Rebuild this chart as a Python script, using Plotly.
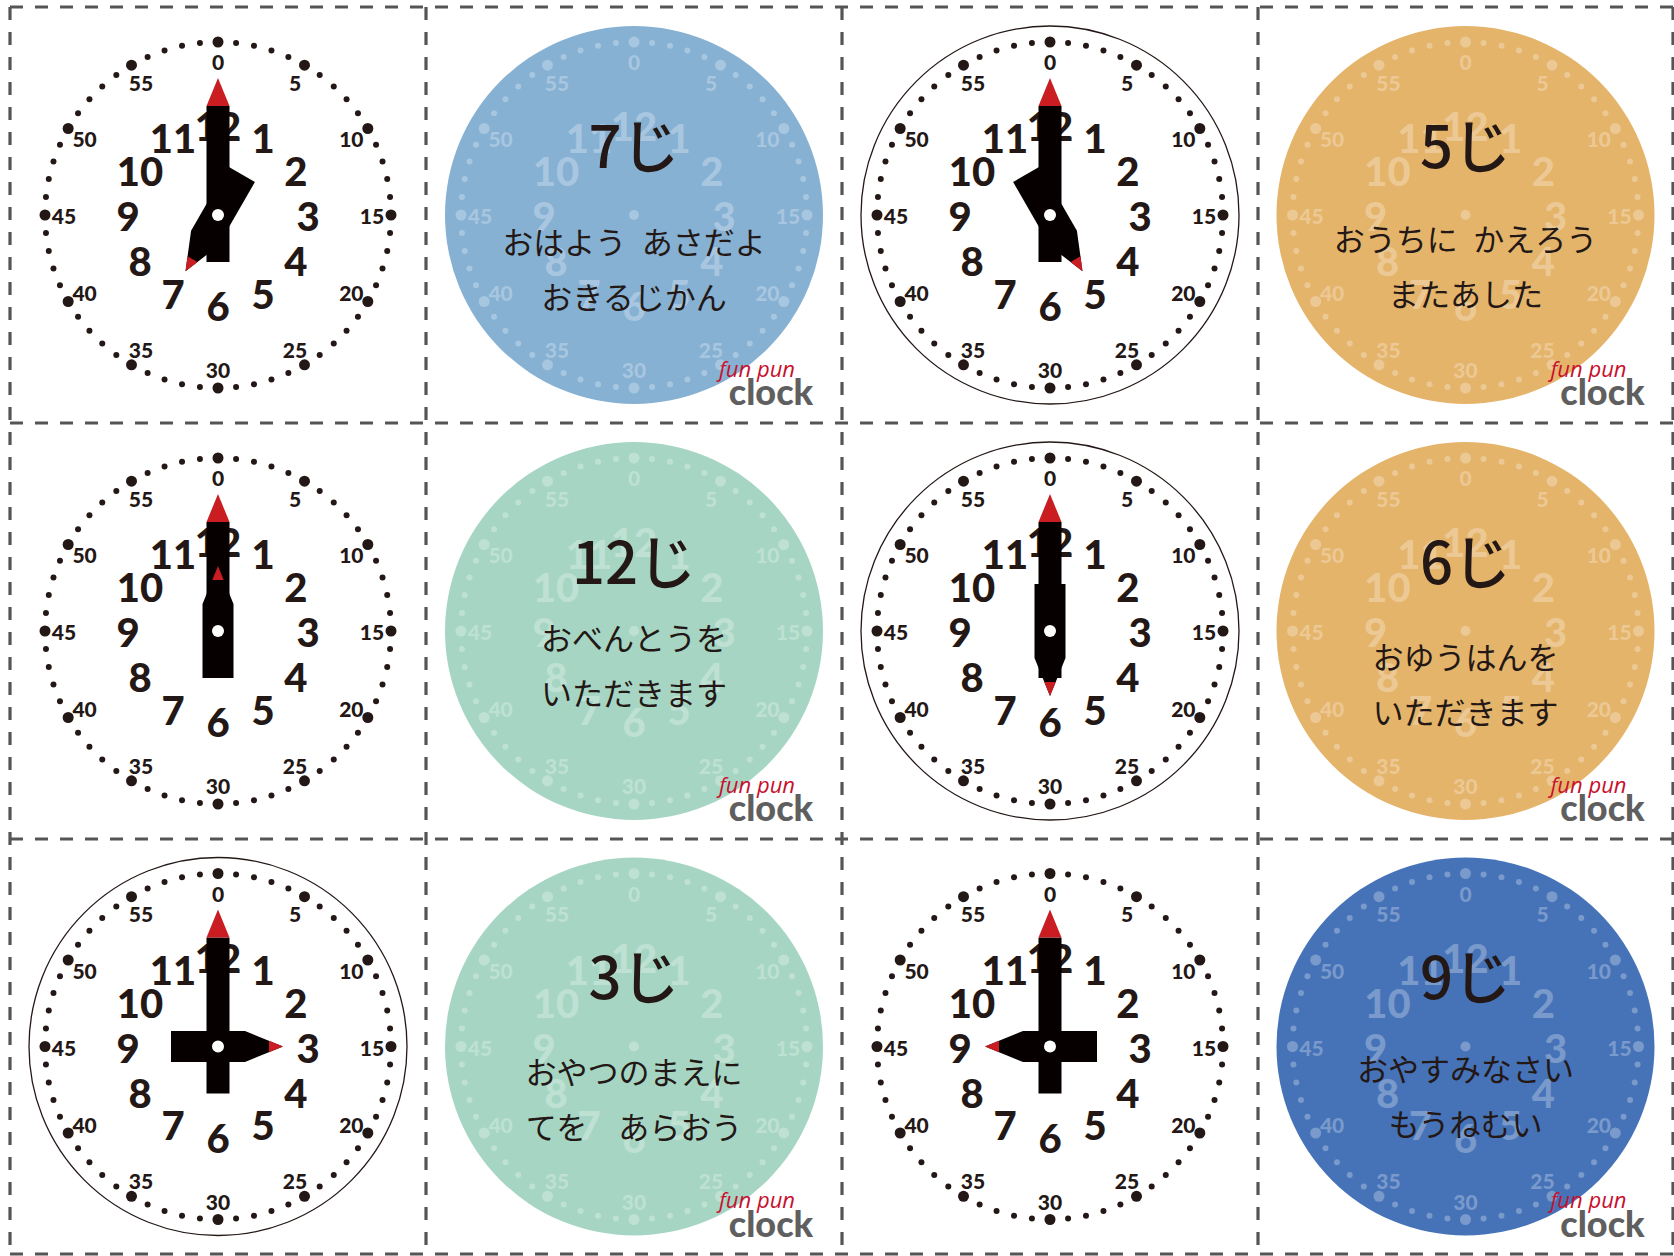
import math
import plotly.graph_objects as go

# ---------------- data ----------------
W, H = 1674, 1256
grid_x = [10, 426, 842, 1258, 1673]
grid_y = [7, 423, 839, 1254]

clock_cells = [(0, 0), (0, 2), (1, 0), (1, 2), (2, 0), (2, 2)]
clock_hours = [7, 5, 12, 6, 3, 9]
clock_minutes = [0, 0, 0, 0, 0, 0]
clock_has_ring = [False, True, False, True, True, False]

card_cells = [(0, 1), (0, 3), (1, 1), (1, 3), (2, 1), (2, 3)]
card_titles = ["7じ", "5じ", "12じ", "6じ", "3じ", "9じ"]
card_line1 = ["おはよう\u2002あさだよ", "おうちに\u2002かえろう", "おべんとうを",
              "おゆうはんを", "おやつのまえに", "おやすみなさい"]
card_line2 = ["おきるじかん", "またあした", "いただきます",
              "いただきます", "てを　あらおう", "もうねむい"]
card_colors = ["#86b1d3", "#e5b46b", "#a6d6c3", "#e5b46b", "#a6d6c3", "#4673b8"]
card_text_shift = [0, -3, -20, -1, -1, -4]

minute_labels = ["0", "5", "10", "15", "20", "25", "30", "35", "40", "45", "50", "55"]
hour_labels = ["12", "1", "2", "3", "4", "5", "6", "7", "8", "9", "10", "11"]

logo_top = "fun pun"
logo_bottom = "clock"

# ---------------- style ----------------
INK = "#231815"
HAND = "#060001"
RED = "#c91d21"
GRID = "#555555"
FAINT = "rgba(255,255,255,0.28)"
FACE_R = 189
DOT_R = 173
MIN_R = 154
HOUR_R = 90
MIN_DY = 4
HOUR_DY = 6
NUM_FONT = "Lato"
JP_FONT = "Noto Sans CJK JP"


def cell_center(cell):
    r, c = cell
    return (grid_x[c] + grid_x[c + 1]) / 2, (grid_y[r] + grid_y[r + 1]) / 2


def polar(cx, cy, r, deg):
    a = math.radians(deg)
    return cx + r * math.sin(a), cy - r * math.cos(a)


def hand_pt(cx, cy, deg, s, w):
    a = math.radians(deg)
    ux, uy = math.sin(a), -math.cos(a)
    vx, vy = math.cos(a), math.sin(a)
    return cx + s * ux + w * vx, cy + s * uy + w * vy


def svg_path(pts):
    return "M " + " L ".join(f"{x:.2f},{y:.2f}" for x, y in pts) + " Z"


shapes = []
traces = []

# dashed cutting grid
for gx in grid_x:
    shapes.append(dict(type="line", xref="x", yref="y", x0=gx, x1=gx, y0=grid_y[0], y1=grid_y[-1],
                       line=dict(color=GRID, width=3.2, dash="13px,12px"), layer="below"))
for gy in grid_y:
    shapes.append(dict(type="line", xref="x", yref="y", x0=grid_x[0], x1=grid_x[-1], y0=gy, y1=gy,
                       line=dict(color=GRID, width=3.2, dash="13px,12px"), layer="below"))

faces = {"solid": [cell_center(c) for c in clock_cells],
         "faint": [cell_center(c) for c in card_cells]}

# coloured card discs
for cell, col in zip(card_cells, card_colors):
    cx, cy = cell_center(cell)
    shapes.append(dict(type="circle", xref="x", yref="y", x0=cx - FACE_R, x1=cx + FACE_R,
                       y0=cy - FACE_R, y1=cy + FACE_R, fillcolor=col, line=dict(width=0), layer="below"))

# clock rings
for cell, ring in zip(clock_cells, clock_has_ring):
    if ring:
        cx, cy = cell_center(cell)
        shapes.append(dict(type="circle", xref="x", yref="y", x0=cx - FACE_R, x1=cx + FACE_R,
                           y0=cy - FACE_R, y1=cy + FACE_R, line=dict(color=INK, width=1.3), layer="below"))

for kind, color in (("solid", INK), ("faint", FAINT)):
    bx, by, sx, sy = [], [], [], []
    mx, my, mt = [], [], []
    hx, hy, ht = [], [], []
    for cx, cy in faces[kind]:
        for i in range(60):
            x, y = polar(cx, cy, DOT_R, i * 6)
            if i % 5 == 0:
                bx.append(x); by.append(y)
            else:
                sx.append(x); sy.append(y)
        for k, lab in enumerate(minute_labels):
            x, y = polar(cx, cy, MIN_R, k * 30)
            mx.append(x); my.append(y + MIN_DY); mt.append(lab)
        for k, lab in enumerate(hour_labels):
            x, y = polar(cx, cy, HOUR_R, k * 30)
            hx.append(x); hy.append(y + HOUR_DY); ht.append(lab)
    traces.append(go.Scatter(x=bx, y=by, mode="markers", marker=dict(size=11, color=color, line=dict(width=0)),
                             hoverinfo="skip"))
    traces.append(go.Scatter(x=sx, y=sy, mode="markers", marker=dict(size=6, color=color, line=dict(width=0)),
                             hoverinfo="skip"))
    traces.append(go.Scatter(x=mx, y=my, mode="text", text=mt, textposition="middle center",
                             textfont=dict(family=NUM_FONT, size=21, color=color, weight=900),
                             hoverinfo="skip"))
    traces.append(go.Scatter(x=hx, y=hy, mode="text", text=ht, textposition="middle center",
                             textfont=dict(family=NUM_FONT, size=40, color=color, weight=900),
                             hoverinfo="skip"))
    if kind == "faint":
        traces.append(go.Scatter(x=[c[0] for c in faces[kind]], y=[c[1] for c in faces[kind]], mode="markers",
                                 marker=dict(size=10, color=color, line=dict(width=0)), hoverinfo="skip"))

# hands
for cell, hr, mn in zip(clock_cells, clock_hours, clock_minutes):
    cx, cy = cell_center(cell)
    mdeg = mn * 6
    hdeg = (hr % 12) * 30 + mn * 0.5
    mh = [(-47, -11.5), (109, -11.5), (109, 11.5), (-47, 11.5)]
    mr = [(109, -11.5), (137, 0), (109, 11.5)]
    hh = [(-47, -15.5), (27, -15.5), (65, 0), (27, 15.5), (-47, 15.5)]
    hrd = [(51, -5.7), (65, 0), (51, 5.7)]
    for pts, col, deg in ((mh, HAND, mdeg), (mr, RED, mdeg), (hh, HAND, hdeg), (hrd, RED, hdeg)):
        shapes.append(dict(type="path", xref="x", yref="y",
                           path=svg_path([hand_pt(cx, cy, deg, s, w) for s, w in pts]),
                           fillcolor=col, line=dict(width=0), layer="above"))
    shapes.append(dict(type="circle", xref="x", yref="y", x0=cx - 6, x1=cx + 6, y0=cy - 6, y1=cy + 6,
                       fillcolor="white", line=dict(width=0), layer="above"))

# card texts
tx, ty, tt = [], [], []
lx, ly, lt = [], [], []
lgx1, lgy1, lgx2, lgy2 = [], [], [], []
for cell, title, a, b, shift in zip(card_cells, card_titles, card_line1, card_line2, card_text_shift):
    cx, cy = cell_center(cell)
    tx.append(cx); ty.append(cy - 62); tt.append(title)
    lx += [cx, cx]; ly += [cy + 31 + shift, cy + 86 + shift]; lt += [a, b]
    lgx1.append(cx + 123); lgy1.append(cy + 156)
    lgx2.append(cx + 137); lgy2.append(cy + 181)

traces.append(go.Scatter(x=tx, y=ty, mode="text", text=tt, textposition="middle center",
                         textfont=dict(family=JP_FONT, size=58, color=INK, weight=500), hoverinfo="skip"))
traces.append(go.Scatter(x=lx, y=ly, mode="text", text=lt, textposition="middle center",
                         textfont=dict(family=JP_FONT, size=31, color=INK), hoverinfo="skip"))
traces.append(go.Scatter(x=lgx1, y=lgy1, mode="text", text=[logo_top] * len(lgx1), textposition="middle center",
                         textfont=dict(family="Open Sans", size=22, color="#c8102e", style="italic"),
                         hoverinfo="skip"))
traces.append(go.Scatter(x=lgx2, y=lgy2, mode="text", text=[logo_bottom] * len(lgx2), textposition="middle center",
                         textfont=dict(family="Lato", size=36, color="#5f5f5f", weight=900),
                         hoverinfo="skip"))

fig = go.Figure(data=traces)
fig.update_layout(
    width=W, height=H, margin=dict(l=0, r=0, t=0, b=0, pad=0),
    paper_bgcolor="white", plot_bgcolor="white", showlegend=False,
    xaxis=dict(range=[0, W], visible=False, fixedrange=True),
    yaxis=dict(range=[H, 0], visible=False, fixedrange=True),
    shapes=shapes,
)
fig.write_html("out.html", config={"displayModeBar": False, "staticPlot": True},
               post_script="document.body.style.margin='0';document.body.style.overflow='hidden';")
